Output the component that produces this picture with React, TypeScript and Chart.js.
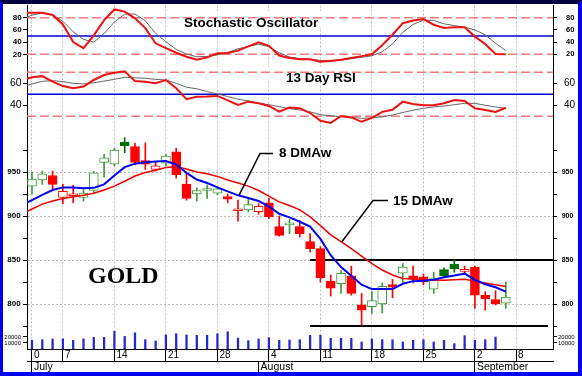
import { useEffect, useRef } from 'react';
import { Chart, registerables } from 'chart.js';

Chart.register(...registerables);

// ---------- data ----------
const dates = ['Jun 30','Jul 1','Jul 2','Jul 7','Jul 8','Jul 9','Jul 10','Jul 11','Jul 14','Jul 15','Jul 16','Jul 17','Jul 18','Jul 21','Jul 22','Jul 23','Jul 24','Jul 25','Jul 28','Jul 29','Jul 30','Jul 31','Aug 1','Aug 4','Aug 5','Aug 6','Aug 7','Aug 8','Aug 11','Aug 12','Aug 13','Aug 14','Aug 15','Aug 18','Aug 19','Aug 20','Aug 21','Aug 22','Aug 25','Aug 26','Aug 27','Aug 28','Aug 29','Sep 2','Sep 3','Sep 4','Sep 5'];

const open = [934,941,946,921,923,921,929,961,959,984,979,963,953,960,973,936,925,929,926,922,906,907,905,915,888,890,888,871,863,826,823,832,799,797,800,822,835,832,831,817,839,845,837,842,810,805,801];
const high = [950,951,951,936,935,930,951,970,977,989,983,983,961,970,977,949,932,935,934,925,918,921,914,920,900,896,895,880,865,833,838,843,812,814,824,828,846,843,834,836,841,850,843,843,814,815,825];
const low = [925,936,930,914,915,917,926,944,957,972,958,953,951,957,943,918,917,920,924,915,894,905,902,897,877,880,876,859,825,809,812,810,776,789,790,807,823,824,822,812,831,836,835,795,793,799,795];
const close = [942,948,936,928,924,926,949,966,975,980,961,959,957,968,947,920,929,930,931,919,907,913,911,899,878,891,880,863,830,818,835,812,793,804,820,819,842,828,825,829,832,840,838,810,806,800,808];
const volume = [14500,15500,16700,17000,14500,17000,19400,19400,29400,21000,27000,15500,13300,23300,25500,23300,22800,22800,25500,28800,18300,13900,16700,18900,14500,15000,15500,22800,22800,17800,17800,17800,11700,16700,15500,15500,11700,14500,15500,11700,14500,8900,22200,14500,15500,20000,null];

// indicator series start one session earlier (Jun 27)
const ma8 = [912,918,924,929.5,932.5,932.5,931.5,932,936,946,955.5,959.5,961,962,962.5,958.5,949,941.5,937.5,932.5,928,923.5,920.5,917,911,902.5,898.5,893.5,888,874,855.5,842,832,822,817,817,817,823,826,826.5,827.5,830.5,832.5,834.5,827.5,822.5,819,814];
const ma15 = [902,908,913.5,917,920,922,923.5,925.8,929.5,934,939.5,945.5,949.5,952,955,956,953.5,950,948,945,941,937.5,934,929,922.5,916,912,907,899,889,878.5,871,863,854.5,846,838.6,833,829,828.5,828,827,827,827.5,828,826,824,822,820];
const stochK = [88.5,88,88,84.5,69,40,30,51,76,93.5,90,79,63,38,30,22.6,16,11,15,21.6,22,26,33,39.5,34,18,14,12,12,8,9,11,14,17,20,35,52,71,75.5,78,68.5,63,64.3,64.3,49,37,20.5,20];
const stochD = [78,84,88,85,74,57,44.5,40,54,73,86,86,75,54.5,40.5,28,20.5,16,16.5,19,23,29,33,36.5,32.5,22.5,15.5,13,12,10,10,10.5,13,15,17.5,24,37,56,69,76,75.5,70,67,64.5,60,52,38,26];
const rsi = [62.5,65.5,66.5,61.5,57.5,55.5,57,63,67.5,69.5,71,62,61.5,60,63,55.5,45.5,47.8,48,48.5,44.5,40.3,43.3,41.8,39.4,34.2,38,37.4,33,26,24,30.3,29,25,28.5,34,36,43.3,41.2,40,40,41.8,44.8,43.9,37.3,35.7,34,37.8];
const rsiAvg = [56.5,59.4,61.8,62.4,61.5,60,59.4,60.5,62,63.6,65.5,65,64.5,63.6,63,60,56.4,55,52.5,50.3,48,45.5,44,42,40.5,38.7,37,35.7,34,31.5,30.5,29.6,29,28.2,28.5,29.5,31.2,33.5,35.5,37.3,38.5,39.4,40.5,41.8,41.8,40,38.5,37.3];

const weekTickIndex = [0,3,8,13,18,23,28,33,38,43,47];
const weekTickLabels = ['0','7','14','21','28','4','11','18','25','2','8'];
const monthTickIndex = [0,22,43];
const monthLabels = ['July','August','September'];

const stochLevels = [80, 50, 20];
const rsiLevels = [70, 50, 30];
const resistance = 850;
const support = 775;
const trendStartIndex = 27;

const X_MIN = -0.485;
const X_MAX = 50.58;

const GREEN = '#3c9c3c';
const GREEN_DARK = '#007000';
const RED = '#ff0000';

const FONT = 'Arial, "Liberation Sans", sans-serif';

function vAxis(position: 'left' | 'right', order: number, weight: number, min: number, max: number,
  tickVals: number[], labelVals: number[], font: any, pad: number, gridFn?: (v: number) => string) {
  return {
    type: 'linear', position, stack: 'panels', stackWeight: weight, weight: order,
    min, max, bounds: 'data',
    afterBuildTicks: (a: any) => { a.ticks = tickVals.map((v) => ({ value: v })); },
    afterFit: (s: any) => {
      s.width = position === 'left' ? 27 : 29;
      s.paddingTop = 0; s.paddingBottom = 0; s.paddingLeft = 0; s.paddingRight = 0;
    },
    ticks: {
      autoSkip: false, color: '#000', font, padding: pad,
      callback: (v: number) => (labelVals.includes(v) ? String(v) : ''),
    },
    grid: {
      display: true,
      drawOnChartArea: !!gridFn,
      color: gridFn ? (c: any) => gridFn(c.tick ? c.tick.value : 0) : 'rgba(0,0,0,0)',
      tickColor: '#000', tickLength: 4, tickWidth: 1, tickBorderDash: [],
    },
    border: { display: true, color: '#000', width: 1, dash: [2, 2] },
  };
}

export default function App() {
  const ref = useRef<HTMLCanvasElement>(null);

  useEffect(() => {
    const canvas = ref.current!;
    const idx = dates.map((_, i) => i);
    const indX = [-1, ...idx];

    const up = close.map((c, i) => c >= (i === 0 ? open[0] : close[i - 1]));
    const filled = close.map((c, i) => c < open[i]);
    const edge = idx.map((i) => (up[i] ? (filled[i] ? GREEN_DARK : GREEN) : RED));
    const fill = idx.map((i) => (filled[i] ? (up[i] ? GREEN_DARK : RED) : '#ffffff'));

    const levelLine = (v: number, axis: string, color: string, dash: number[], width: number, from = X_MIN, to = X_MAX) => ({
      type: 'line', yAxisID: axis, xAxisID: 'x',
      data: [{ x: from, y: v }, { x: to, y: v }],
      borderColor: color, borderWidth: width, borderDash: dash,
      pointRadius: 0, order: 5,
    });
    const series = (vals: number[], axis: string, color: string, width: number, order: number) => ({
      type: 'line', yAxisID: axis, xAxisID: 'x',
      data: indX.map((x, k) => ({ x, y: vals[k] })),
      borderColor: color, borderWidth: width, pointRadius: 0, tension: 0, order,
    });

    const annot = {
      id: 'annot',
      beforeDatasetsDraw(chart: any) {
        const ctx = chart.ctx;
        ctx.save();
        ctx.fillStyle = '#ffffff';
        ctx.fillRect(175, 11, 152, 16);
        ctx.fillRect(217, 67, 150, 14);
        ctx.restore();
      },
      afterDatasetsDraw(chart: any) {
        const { ctx, scales } = chart;
        const x = scales.x;
        const yP = scales.yP;
        ctx.save();
        ctx.fillStyle = '#000';
        ctx.textAlign = 'left';
        ctx.textBaseline = 'alphabetic';
        ctx.font = `bold 13.5px ${FONT}`;
        ctx.fillText('Stochastic Oscillator', 184, 26.5);
        ctx.fillText('13 Day RSI', 286, 81.5);
        ctx.fillText('8 DMAw', 279, 156.5);
        ctx.fillText('15 DMAw', 393, 205);
        ctx.font = 'bold 24px "Liberation Serif", "Times New Roman", serif';
        ctx.fillText('GOLD', 88, 283);
        ctx.strokeStyle = '#000';
        ctx.lineWidth = 1.5;
        const a8x = x.getPixelForValue(20.1);
        const a8y = yP.getPixelForValue(ma8[21]);
        ctx.beginPath();
        ctx.moveTo(a8x, a8y); ctx.lineTo(260, 153.5); ctx.lineTo(273, 153.5);
        ctx.stroke();
        const a15x = x.getPixelForValue(30.1);
        const a15y = yP.getPixelForValue(ma15[31]);
        ctx.beginPath();
        ctx.moveTo(a15x, a15y); ctx.lineTo(373, 200.5); ctx.lineTo(388, 200.5);
        ctx.stroke();
        ctx.restore();
      },
    };

    const chart = new Chart(canvas, {
      type: 'line',
      data: {
        datasets: [
          // stochastic panel
          levelLine(stochLevels[0], 'yS', '#f07a7a', [9, 4], 1.5),
          levelLine(stochLevels[2], 'yS', '#f07a7a', [9, 4], 1.5),
          levelLine(stochLevels[1], 'yS', '#0000d0', [], 1.5),
          series(stochD, 'yS', '#666666', 1, 2),
          series(stochK, 'yS', '#ee1111', 2, 1),
          // RSI panel
          levelLine(rsiLevels[0], 'yR', '#f07a7a', [9, 4], 1.5),
          levelLine(rsiLevels[2], 'yR', '#f07a7a', [9, 4], 1.5),
          levelLine(rsiLevels[1], 'yR', '#0000d0', [], 1.5),
          series(rsiAvg, 'yR', '#666666', 1, 2),
          series(rsi, 'yR', '#ee1111', 2, 1),
          // price panel
          levelLine(resistance, 'yP', '#000000', [], 2, trendStartIndex, X_MAX),
          levelLine(support, 'yP', '#000000', [], 2, trendStartIndex, 50.1),
          {
            type: 'bar', yAxisID: 'yP', xAxisID: 'x', grouped: false, order: 4,
            data: idx.map((i) => ({ x: i, y: [low[i], high[i]] })),
            backgroundColor: edge, borderWidth: 0, barThickness: 1,
          },
          {
            type: 'bar', yAxisID: 'yP', xAxisID: 'x', grouped: false, order: 3,
            data: idx.map((i) => ({ x: i, y: [open[i], close[i]] })),
            backgroundColor: fill, borderColor: edge, borderWidth: 1, borderSkipped: false,
            barThickness: 9, minBarLength: 2,
          },
          series(ma15, 'yP', '#ee0000', 1.5, 1),
          series(ma8, 'yP', '#0000ee', 2, 0),
          // volume panel
          {
            type: 'bar', yAxisID: 'yV', xAxisID: 'x', grouped: false, order: 3,
            data: idx.map((i) => ({ x: i, y: volume[i] })),
            backgroundColor: '#2424d8', borderWidth: 0, barThickness: 1.6,
          },
        ] as any,
      },
      options: {
        responsive: false,
        devicePixelRatio: 1,
        animation: false,
        events: [],
        layout: { padding: { top: 5.5, left: 0, right: 0, bottom: 0 } },
        plugins: { legend: { display: false }, tooltip: { enabled: false } },
        scales: {
          x: {
            type: 'linear', position: 'bottom', min: X_MIN, max: X_MAX, bounds: 'data', offset: false, weight: 0,
            afterBuildTicks: (a: any) => { a.ticks = weekTickIndex.map((v) => ({ value: v })); },
            afterFit: (s: any) => { s.height = 12; s.paddingLeft = 0; s.paddingRight = 0; s.paddingTop = 0; s.paddingBottom = 0; },
            ticks: {
              autoSkip: false, maxRotation: 0, minRotation: 0, align: 'start', labelOffset: 2, padding: -12,
              color: '#000', font: { family: FONT, size: 10 },
              callback: (v: number) => { const k = weekTickIndex.indexOf(v); return k >= 0 ? weekTickLabels[k] : ''; },
            },
            grid: { display: true, drawOnChartArea: true, offset: false, color: '#bdbdbd', tickColor: '#000', tickLength: 12, tickWidth: 1, tickBorderDash: [] },
            border: { display: true, color: '#000', width: 1, dash: [2, 2] },
          },
          xm: {
            type: 'linear', position: 'bottom', min: X_MIN, max: X_MAX, bounds: 'data', offset: false, weight: 1,
            afterBuildTicks: (a: any) => { a.ticks = monthTickIndex.map((v) => ({ value: v })); },
            afterFit: (s: any) => { s.height = 15; s.paddingLeft = 0; s.paddingRight = 0; s.paddingTop = 0; s.paddingBottom = 0; },
            ticks: {
              autoSkip: false, maxRotation: 0, minRotation: 0, align: 'start', labelOffset: 2, padding: -15,
              color: '#000', font: { family: FONT, size: 10.5 },
              callback: (v: number) => { const k = monthTickIndex.indexOf(v); return k >= 0 ? monthLabels[k] : ''; },
            },
            grid: { display: true, drawOnChartArea: false, offset: false, tickColor: '#000', tickLength: 15, tickWidth: 1, tickBorderDash: [] },
            border: { display: true, color: '#000', width: 1 },
          },
          yS: vAxis('left', 4, 61, 0, 100, [20, 40, 60, 80], [20, 40, 60, 80], { family: FONT, size: 8, weight: 'bold' }, 1.3),
          yR: vAxis('left', 3, 61.5, 19.36, 75.27, [40, 60], [40, 60], { family: FONT, size: 10.5 }, 1.3),
          yP: vAxis('left', 2, 201, 771.6, 1000, [775, 800, 825, 850, 875, 900, 925, 950, 975], [800, 850, 900, 950],
            { family: FONT, size: 8, weight: 'bold' }, 2.3,
            (v) => (v % 50 === 0 ? '#bdbdbd' : 'rgba(0,0,0,0)')),
          yV: vAxis('left', 1, 20, 0, 33333, [10000, 20000], [10000, 20000], { family: FONT, size: 6 }, 2),
          yS2: vAxis('right', 1, 61, 0, 100, [20, 40, 60, 80], [20, 40, 60, 80], { family: FONT, size: 7.5, weight: 'bold' }, 9),
          yR2: vAxis('right', 2, 61.5, 19.36, 75.27, [40, 60], [40, 60], { family: FONT, size: 10 }, 7),
          yP2: vAxis('right', 3, 201, 771.6, 1000, [775, 800, 825, 850, 875, 900, 925, 950, 975], [800, 850, 900, 950],
            { family: FONT, size: 7, weight: 'bold' }, 4.7),
          yV2: vAxis('right', 4, 20, 0, 33333, [10000, 20000], [10000, 20000], { family: FONT, size: 6 }, 1),
        } as any,
      },
      plugins: [annot],
    } as any);
    return () => chart.destroy();
  }, []);

  return (
    <div style={{ position: 'fixed', left: 0, top: 0, width: 582, height: 376, background: '#ffffff', overflow: 'hidden' }}>
      <canvas ref={ref} width={582} height={376} style={{ display: 'block', width: 582, height: 376 }} />
      <div
        style={{
          position: 'absolute', left: 0, top: 0, width: 582, height: 376, boxSizing: 'border-box',
          borderTop: '4px solid #000040', borderLeft: '3px solid #0000f0',
          borderRight: '4px solid #0000f0', borderBottom: '4px solid #0000f0', pointerEvents: 'none',
        }}
      />
    </div>
  );
}
